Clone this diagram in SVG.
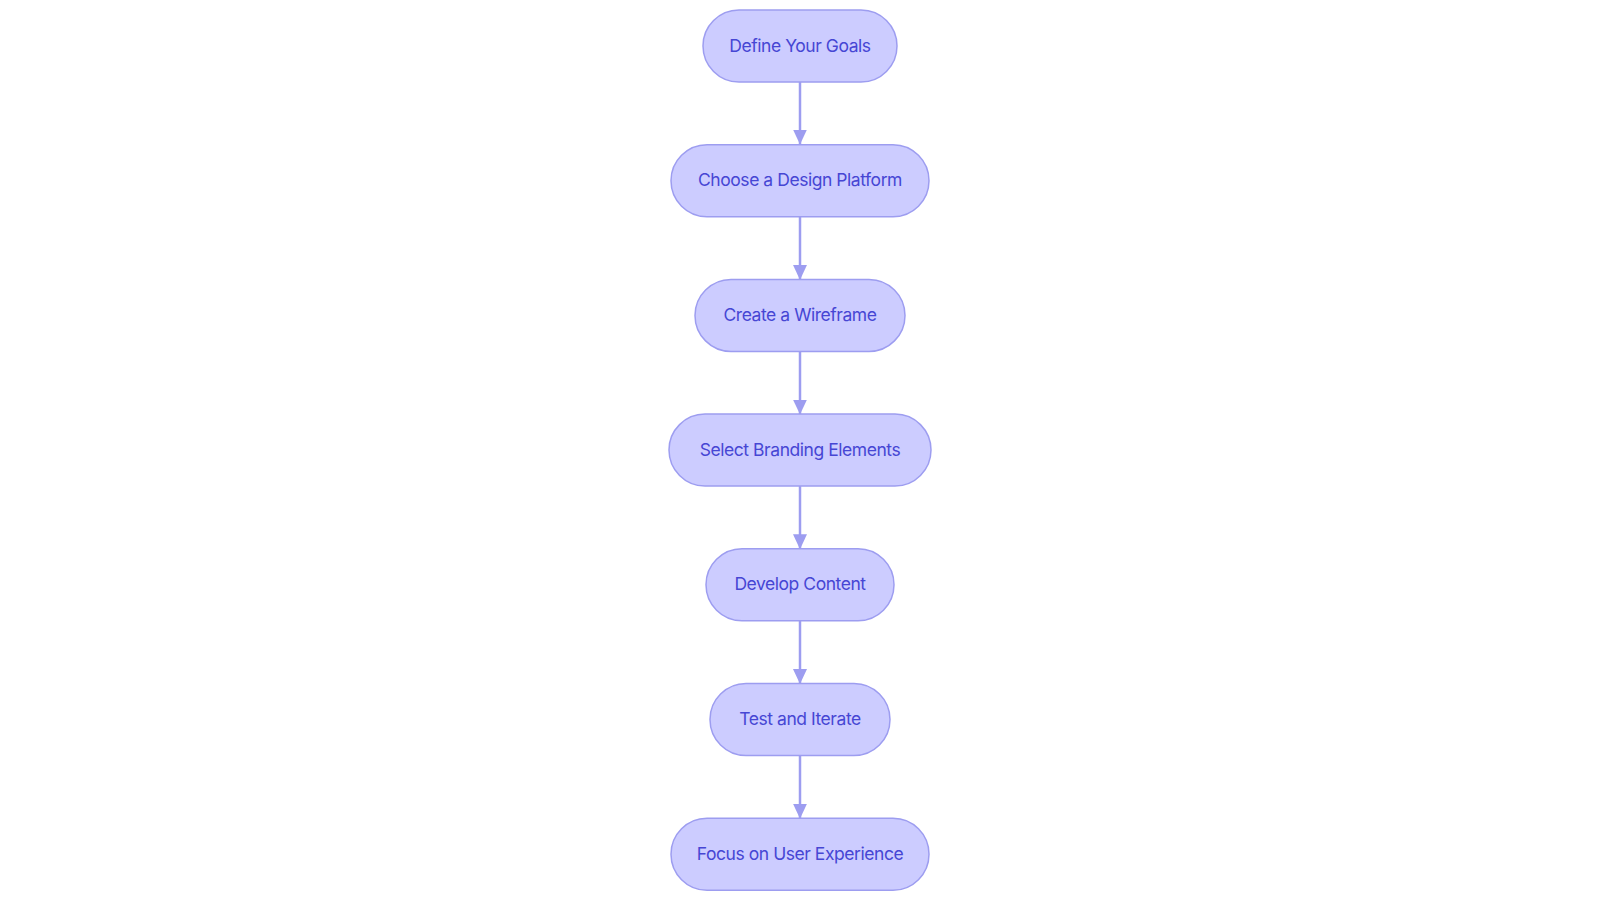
<svg xmlns="http://www.w3.org/2000/svg" width="1600" height="903" viewBox="0 0 1600 903">
<style>
.node rect{fill:#CCCCFF;stroke:#9D9DF0;stroke-width:1.5}
.node text{font-family:Inter,"Noto Sans",sans-serif;font-size:17.5px;font-weight:400;letter-spacing:-0.45px;fill:#4646D4;text-anchor:middle;dominant-baseline:central}
.edge{stroke:#9D9DF0;stroke-width:2.5;fill:none}
</style>
<defs>
<marker id="arr" markerWidth="15" markerHeight="14" refX="14.5" refY="7" markerUnits="userSpaceOnUse" orient="auto">
<path d="M0,0 L15,7 L0,14 Z" fill="#9D9DF0"/>
</marker>
</defs>
<rect width="1600" height="903" fill="#ffffff"/>
<g id="connectors">
<line class="edge" x1="800" y1="82" x2="800" y2="144" marker-end="url(#arr)"/>
<line class="edge" x1="800" y1="216.7" x2="800" y2="279.4" marker-end="url(#arr)"/>
<line class="edge" x1="800" y1="351.4" x2="800" y2="414.1" marker-end="url(#arr)"/>
<line class="edge" x1="800" y1="486.1" x2="800" y2="548.8" marker-end="url(#arr)"/>
<line class="edge" x1="800" y1="620.8" x2="800" y2="683.5" marker-end="url(#arr)"/>
<line class="edge" x1="800" y1="755.5" x2="800" y2="818.2" marker-end="url(#arr)"/>
</g>
<g id="n1" class="node"><rect x="703" y="10" width="194" height="72" rx="36"/><text x="800" y="45">Define Your Goals</text></g>
<g id="n2" class="node"><rect x="671" y="144.7" width="258" height="72" rx="36"/><text x="800" y="179.7">Choose a Design Platform</text></g>
<g id="n3" class="node"><rect x="695" y="279.4" width="210" height="72" rx="36"/><text x="800" y="314.4">Create a Wireframe</text></g>
<g id="n4" class="node"><rect x="669" y="414.1" width="262" height="72" rx="36"/><text x="800" y="449.1">Select Branding Elements</text></g>
<g id="n5" class="node"><rect x="706" y="548.8" width="188" height="72" rx="36"/><text x="800" y="583.8">Develop Content</text></g>
<g id="n6" class="node"><rect x="710" y="683.5" width="180" height="72" rx="36"/><text x="800" y="718.5">Test and Iterate</text></g>
<g id="n7" class="node"><rect x="671" y="818.2" width="258" height="72" rx="36"/><text x="800" y="853.2">Focus on User Experience</text></g>
</svg>
